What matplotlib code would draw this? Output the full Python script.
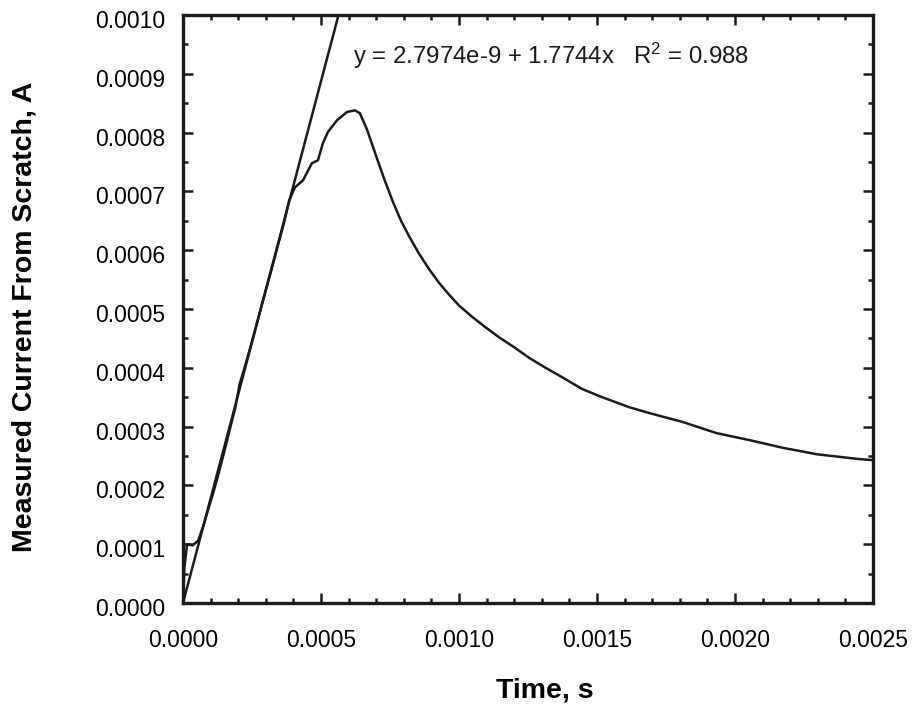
import numpy as np
import matplotlib
matplotlib.use("Agg")
import matplotlib.pyplot as plt
import matplotlib.transforms as mtransforms
from matplotlib.ticker import MultipleLocator, FormatStrFormatter

plt.rcParams['font.family'] = ['Liberation Sans', 'DejaVu Sans']
plt.rcParams['mathtext.fontset'] = 'custom'
plt.rcParams['mathtext.rm'] = 'Liberation Sans'
plt.rcParams['mathtext.it'] = 'Liberation Sans'

# Measured current trace (time in s, current in A)
time_s = [0.0, 0.000005, 0.000015, 0.000035, 0.000055, 0.000075, 0.000095,
          0.000110, 0.000130, 0.000150, 0.000170, 0.000190, 0.000205, 0.000220,
          0.000240, 0.000260, 0.000290, 0.000320, 0.000345, 0.000365, 0.000385,
          0.000406, 0.000435, 0.000467, 0.000489, 0.000507, 0.000525, 0.000558,
          0.000594, 0.000623, 0.000641, 0.000667, 0.000700, 0.000730, 0.000760,
          0.000790, 0.000818, 0.000854, 0.000890, 0.000927, 0.000963, 0.001000,
          0.001047, 0.001096, 0.001145, 0.001200, 0.001254, 0.001314, 0.001374,
          0.001446, 0.001519, 0.001617, 0.001690, 0.001810, 0.001933, 0.002053,
          0.002173, 0.002297, 0.002446, 0.002500]
current_a = [0.0, 0.000060, 0.000100, 0.000098, 0.000106, 0.000133, 0.000165,
             0.000188, 0.000222, 0.000258, 0.000296, 0.000333, 0.000372, 0.000395,
             0.000428, 0.000462, 0.000515, 0.000566, 0.000610, 0.000645, 0.000685,
             0.000707, 0.000719, 0.000748, 0.000753, 0.000782, 0.000801, 0.000821,
             0.000835, 0.000838, 0.000833, 0.000805, 0.000760, 0.000720, 0.000683,
             0.000650, 0.000625, 0.000595, 0.000569, 0.000545, 0.000525, 0.000506,
             0.000487, 0.000469, 0.000452, 0.000435, 0.000417, 0.000400, 0.000384,
             0.000364, 0.000350, 0.000333, 0.000323, 0.000308, 0.000289, 0.000277,
             0.000264, 0.000253, 0.000245, 0.000243]

# Linear fit
fit_intercept = 2.7974e-9
fit_slope = 1.7744
fit_r2 = 0.988
fit_range = [0.0, 0.0006]

xticks = [0.0, 0.0005, 0.0010, 0.0015, 0.0020, 0.0025]
yticks = [0.0, 0.0001, 0.0002, 0.0003, 0.0004, 0.0005, 0.0006, 0.0007, 0.0008, 0.0009, 0.0010]

fig = plt.figure(figsize=(9.14, 7.16), dpi=100)
ax = fig.add_axes([0.2002, 0.1578, 0.7549, 0.8212])

ax.plot(time_s, current_a, color='#1a1a1a', lw=1.8)
fx = np.array(fit_range)
ax.plot(fx, fit_intercept + fit_slope * fx, color='#1a1a1a', lw=1.8)

ax.set_xlim(0, 0.0025)
ax.set_ylim(0, 0.0010)
ax.set_xticks(xticks)
ax.set_yticks(yticks)
ax.xaxis.set_major_formatter(FormatStrFormatter('%.4f'))
ax.yaxis.set_major_formatter(FormatStrFormatter('%.4f'))
ax.xaxis.set_minor_locator(MultipleLocator(0.0001))
ax.yaxis.set_minor_locator(MultipleLocator(0.00005))
ax.tick_params(which='both', direction='in', top=True, right=True, width=1.8, color='#1a1a1a')
ax.tick_params(which='major', length=7, labelsize=16.5)
ax.tick_params(which='minor', length=3.5)
ax.tick_params(axis='x', which='major', pad=19)
ax.tick_params(axis='y', which='major', pad=13)
for s in ax.spines.values():
    s.set_linewidth(2.4)
    s.set_color('#1a1a1a')

# y tick labels sit slightly below their ticks in the reference
shift = mtransforms.ScaledTranslation(0, -4 / 100, fig.dpi_scale_trans)
for tick in ax.yaxis.get_major_ticks():
    tick.label1.set_transform(tick.label1.get_transform() + shift)

ax.set_xlabel('Time, s', fontsize=20.5, fontweight='bold')
ax.set_ylabel('Measured Current From Scratch, A', fontsize=20.5, fontweight='bold', va='center')
ax.xaxis.set_label_coords(0.525, -0.126)
ax.yaxis.set_label_coords(-0.2304, 0.487)

ax.text(0.000615, 0.00093,
        r'y = 2.7974e-9 + 1.7744x   R$^2$ = %.3f' % fit_r2,
        fontsize=17.3, color='#1a1a1a', va='center', ha='left')

fig.savefig('out.png', dpi=100, facecolor='white')
